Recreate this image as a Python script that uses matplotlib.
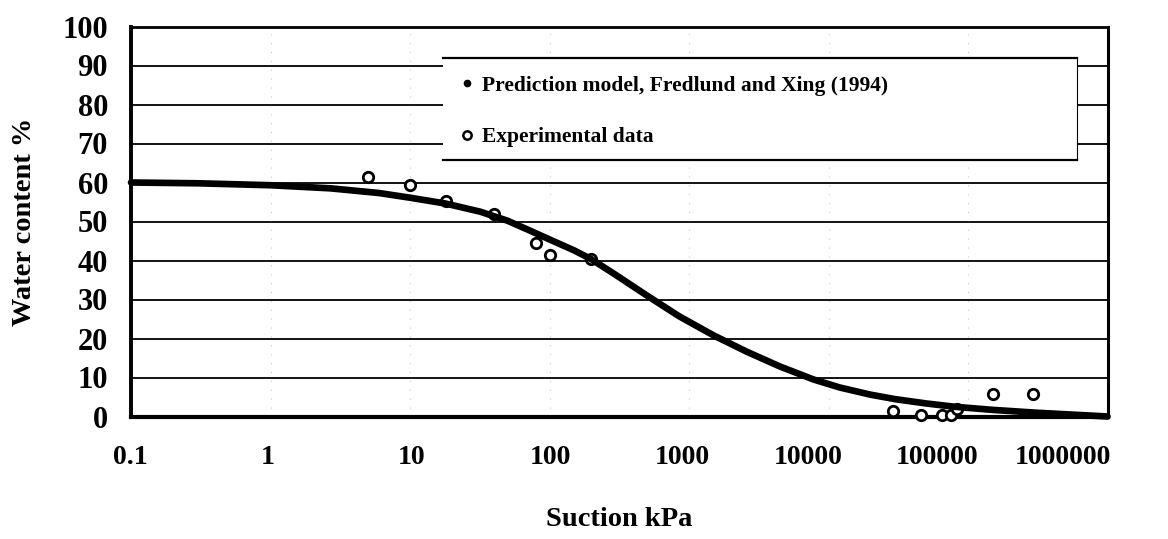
import matplotlib
matplotlib.use("Agg")
import matplotlib.pyplot as plt
from matplotlib.lines import Line2D
from matplotlib.patches import Rectangle
from matplotlib.ticker import NullLocator

# Fredlund and Xing (1994) prediction curve (suction kPa, water content %)
suction_model = [0.1, 0.3, 1, 2.7, 6, 10, 18, 32, 50, 70, 100, 150, 200, 290,
                 500, 850, 1500, 2600, 4500, 7800, 12000, 20000, 30000, 50000,
                 80000, 150000, 300000, 1000000]
water_model = [60.0, 59.8, 59.3, 58.5, 57.3, 56.1, 54.6, 52.5, 50.2, 47.9, 45.4,
               42.6, 40.3, 36.6, 31.0, 25.7, 20.8, 16.6, 12.8, 9.5, 7.45, 5.6,
               4.45, 3.35, 2.5, 1.7, 1.0, 0.0]

# Laboratory measurements
suction_exp = [5, 10, 18, 40, 80, 100, 200, 29000, 46000, 65000, 76000, 83000,
               150000, 290000]
water_exp = [61.5, 59.3, 55.3, 51.8, 44.6, 41.3, 40.5, 1.5, 0.5, 0.4, 0.4, 2.0,
             5.8, 5.8]

x_ticks = [0.1, 1, 10, 100, 1000, 10000, 100000, 1000000]
x_tick_labels = ["0.1", "1", "10", "100", "1000", "10000", "100000", "1000000"]
y_ticks = list(range(0, 101, 10))

legend_labels = ["Prediction model, Fredlund and Xing (1994)", "Experimental data"]

plt.rcParams["font.family"] = ["Liberation Serif", "DejaVu Serif"]
plt.rcParams["font.weight"] = "bold"

W, H = 1168, 539
fig = plt.figure(figsize=(W / 100, H / 100), dpi=100)
ax = fig.add_axes([131 / W, 1 - 416.5 / H, 976.5 / W, 390 / H])

ax.set_xscale("log")
ax.set_xlim(x_ticks[0], x_ticks[-1])
ax.set_ylim(y_ticks[0], y_ticks[-1])

# horizontal grid
for yv in y_ticks[1:-1]:
    ax.axhline(yv, color="black", lw=1.3, zorder=1)
# faint dotted decade lines
for xv in x_ticks[1:-1]:
    ax.axvline(xv, color="#666666", lw=0.8, ls=(0, (1, 7)), alpha=0.35, zorder=1)

# data
ax.plot(suction_exp, water_exp, ls="none", marker="o", ms=7.5, mfc="white",
        mec="black", mew=2.0, zorder=3, clip_on=False)
ax.plot(suction_model, water_model, color="black", lw=4.8,
        solid_capstyle="round", solid_joinstyle="round", zorder=4, clip_on=False)

# frame
for side, lw in (("left", 2.8), ("bottom", 3.0), ("top", 2.0), ("right", 2.2)):
    ax.spines[side].set_linewidth(lw)
    ax.spines[side].set_zorder(2.5)

# ticks
ax.xaxis.set_minor_locator(NullLocator())
ax.set_xticks(x_ticks)
ax.set_xticklabels([])
ax.set_yticks(y_ticks)
ax.set_yticklabels([str(v) for v in y_ticks], fontsize=22, fontweight="bold")
ax.tick_params(axis="both", which="both", length=0)
ax.tick_params(axis="y", pad=16.5)

# x tick labels, with the small horizontal shifts of the printed scale
label_shift_px = [-1, -2.5, 2, 0.5, -7, -20.5, -31, -44.5]
for xv, txt, dx in zip(x_ticks, x_tick_labels, label_shift_px):
    ax.annotate(txt, xy=(xv, 0), xycoords=("data", "axes fraction"),
                xytext=(dx * 0.72, -28.5 * 0.72), textcoords="offset points",
                ha="center", va="top", fontsize=20, fontweight="bold",
                annotation_clip=False)

ax.set_xlabel("Suction kPa", fontsize=20.5, fontweight="bold")
ax.xaxis.set_label_coords(0.5, -(520 - 416.5) / 390)
ax.xaxis.label.set_va("center")
ax.set_ylabel("Water content %", fontsize=20.5, fontweight="bold")
ax.yaxis.set_label_coords(-(131 - 25) / 976.5, 0.5)
ax.yaxis.label.set_va("center")

# legend panel
lx0, lx1, ly0, ly1 = 0.3195, 0.9688, 0.658, 0.918
ax.add_patch(Rectangle((lx0, ly0), lx1 - lx0, ly1 - ly0, transform=ax.transAxes,
                       facecolor="white", edgecolor="none", zorder=5))
ax.plot([lx0, lx1], [ly1, ly1], transform=ax.transAxes, color="black", lw=1.6,
        zorder=6, clip_on=False)
ax.plot([lx0, lx1], [ly0, ly0], transform=ax.transAxes, color="black", lw=1.6,
        zorder=6, clip_on=False)
ax.plot([lx1, lx1], [ly0, ly1], transform=ax.transAxes, color="black", lw=0.8,
        zorder=6, clip_on=False)

handles = [
    Line2D([], [], ls="none", marker="o", ms=4.5, mfc="black", mec="black"),
    Line2D([], [], ls="none", marker="o", ms=6, mfc="white", mec="black", mew=1.8),
]
leg = ax.legend(handles, legend_labels, loc="upper left",
                bbox_to_anchor=(0.322, 0.912), frameon=False,
                prop={"size": 15.5, "weight": "bold"},
                handlelength=0.6, handletextpad=0.4, labelspacing=1.45,
                borderpad=0.2)
leg.set_zorder(7)

fig.savefig("out.png", dpi=100, facecolor="white")
